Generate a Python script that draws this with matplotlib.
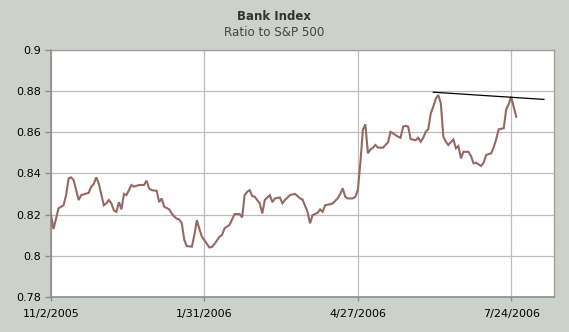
import matplotlib
matplotlib.use("Agg")
import matplotlib.pyplot as plt

# Trading-day index (0 = 11/2/2005) and ratio values
days = [0, 1, 3, 5, 6, 7, 8, 9, 11, 12, 15, 16, 17, 18, 19, 21, 22, 23, 24, 25,
        26, 27, 28, 29, 30, 32, 33, 35, 37, 38, 39, 40, 42, 43, 44, 45, 47, 48, 49, 50,
        51, 52, 53, 54, 56, 57, 58, 59, 60, 61, 63, 64, 65, 67, 68, 69, 71, 72, 73, 75,
        76, 77, 78, 79, 80, 81, 83, 84, 85, 87, 88, 89, 91, 92, 93, 95, 97, 98, 99, 100,
        102, 103, 104, 106, 107, 108, 109, 111, 112, 114, 115, 116, 117, 118, 120, 121, 122, 123, 124, 125,
        126, 127, 128, 129, 130, 132, 134, 135, 136, 138, 139, 140, 141, 142, 143, 145, 146, 147, 148, 149,
        150, 151, 152, 153, 154, 155, 156, 157, 158, 160, 161, 162, 163, 164, 166, 167, 168, 169, 171, 172,
        173, 174, 175, 176, 177, 178, 180, 181, 182, 183, 184, 185]
ratio = [0.8197, 0.8130, 0.8230, 0.8245, 0.8294, 0.8375, 0.8380, 0.8367, 0.8270, 0.8294,
         0.8305, 0.8335, 0.8348, 0.8380, 0.8350, 0.8245, 0.8254, 0.8270, 0.8254, 0.8220,
         0.8213, 0.8260, 0.8225, 0.8300, 0.8294, 0.8343, 0.8335, 0.8343, 0.8343, 0.8364,
         0.8327, 0.8318, 0.8315, 0.8260, 0.8278, 0.8238, 0.8225, 0.8205, 0.8190, 0.8180,
         0.8176, 0.8157, 0.8076, 0.8047, 0.8044, 0.8100, 0.8173, 0.8130, 0.8092, 0.8075,
         0.8040, 0.8043, 0.8057, 0.8092, 0.8100, 0.8133, 0.8150, 0.8176, 0.8202, 0.8202,
         0.8186, 0.8294, 0.8310, 0.8318, 0.8290, 0.8286, 0.8254, 0.8205, 0.8270, 0.8294,
         0.8260, 0.8278, 0.8283, 0.8254, 0.8270, 0.8294, 0.8300, 0.8290, 0.8278, 0.8273,
         0.8213, 0.8157, 0.8197, 0.8208, 0.8225, 0.8213, 0.8245, 0.8250, 0.8254, 0.8278,
         0.8300, 0.8327, 0.8286, 0.8278, 0.8278, 0.8286, 0.8318, 0.8450, 0.8610, 0.8637,
         0.8497, 0.8515, 0.8524, 0.8537, 0.8524, 0.8524, 0.8550, 0.8601, 0.8594, 0.8577,
         0.8572, 0.8626, 0.8630, 0.8626, 0.8566, 0.8560, 0.8572, 0.8553, 0.8572, 0.8601,
         0.8614, 0.8690, 0.8723, 0.8763, 0.8779, 0.8739, 0.8577, 0.8553, 0.8537, 0.8564,
         0.8521, 0.8532, 0.8472, 0.8504, 0.8504, 0.8483, 0.8448, 0.8451, 0.8435, 0.8451,
         0.8488, 0.8493, 0.8496, 0.8525, 0.8564, 0.8613, 0.8618, 0.8710, 0.8735, 0.8771,
         0.8720, 0.8674]

trend_days = [152, 196]
trend_vals = [0.8793, 0.8758]

tick_days = [0, 61, 122, 183]
tick_labels = ["11/2/2005", "1/31/2006", "4/27/2006", "7/24/2006"]
y_ticks = [0.78, 0.8, 0.82, 0.84, 0.86, 0.88, 0.9]
y_labels = ["0.78", "0.8", "0.82", "0.84", "0.86", "0.88", "0.9"]

bg = "#CCD1C9"
fig = plt.figure(figsize=(5.69, 3.32), dpi=100, facecolor=bg)
ax = fig.add_axes([51/569, 1 - 297/332, (554 - 51)/569, (297 - 49.5)/332])
ax.set_facecolor("white")

ax.plot(days, ratio, color="#956862", lw=1.5, solid_joinstyle="miter", zorder=3)
ax.plot(trend_days, trend_vals, color="black", lw=0.9, zorder=4)

ax.set_xlim(0, 200)
ax.set_ylim(0.78, 0.9)
ax.set_xticks(tick_days)
ax.set_xticklabels(tick_labels)
ax.set_yticks(y_ticks)
ax.set_yticklabels(y_labels)

ax.grid(True, color="#BDBDBD", lw=0.9)
ax.set_axisbelow(True)

for side in ["top", "right"]:
    ax.spines[side].set_color("#A0A0A0")
    ax.spines[side].set_linewidth(1.0)
for side in ["left", "bottom"]:
    ax.spines[side].set_color("#8C8C8C")
    ax.spines[side].set_linewidth(1.2)

ax.tick_params(axis="y", length=4, width=1, color="#8C8C8C", labelsize=8, pad=3, labelcolor="black")
ax.tick_params(axis="x", length=3, width=1, color="#8C8C8C", labelsize=8, pad=6, labelcolor="black")

fig.text(274/569, 1 - 16/332, "Bank Index", ha="center", va="center",
         fontsize=8.5, fontweight="bold", color="#333333")
fig.text(274/569, 1 - 33/332, "Ratio to S&P 500", ha="center", va="center",
         fontsize=8.6, color="#444444")

fig.savefig("out.png", dpi=100, facecolor=bg)
